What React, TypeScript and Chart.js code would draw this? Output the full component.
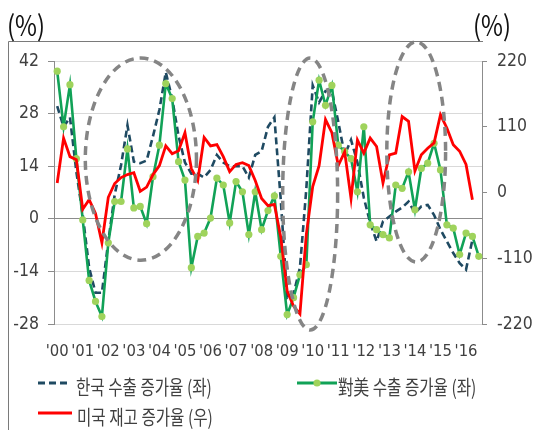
import { useEffect, useRef } from 'react';
import { Chart, registerables } from 'chart.js';

Chart.register(...registerables);

// Quarterly growth rates, 2000Q1 onwards
const yearLabels = ["'00", "'01", "'02", "'03", "'04", "'05", "'06", "'07", "'08", "'09", "'10", "'11", "'12", "'13", "'14", "'15", "'16"];
const quarterNames = ['Q1', 'Q2', 'Q3', 'Q4'];

// 한국 수출 증가율 (좌), %
const koreaExports = [
  30, 24.5, 27, 12.5, 1, -13, -19.7, -19.7, -6, 6.4,
  14.3, 24.9, 15.2, 14.8, 15.5, 22, 29, 39, 32, 22,
  15, 12, 12, 11, 13, 17, 15, 14, 14, 14,
  11, 17, 18, 24.5, 27, 5, -21, -20, -13, 8,
  35.5, 31, 34, 34, 25.8, 17, 21, 15, 5.6, -1.1,
  -6, -0.7, 0.6, 1.9, 3, 4.6, 1.5, 3.3, 3.7, 1,
  -2.9, -6, -9.1, -11.8, -13.5, -5.6,
];

// 對美 수출 증가율 (좌), %
const exportsToUS = [
  39.3, 24.5, 35.7, 16, -0.3, -16.4, -22, -26, -6.4, 4.6,
  4.6, 18.6, 2.9, 3.3, -1.3, 11.2, 19.6, 36, 32, 15.2,
  10.3, -13, -4.7, -3.8, 0.2, 10.8, 9, -1.1, 9.9, 7.2,
  -4.2, 7.2, -2.9, 2.2, 6.1, -10, -25.5, -21, -14.9, -12.2,
  25.8, 36.9, 30.2, 35.5, 19.6, 17.9, 16, 7.2, 24.5, -1.6,
  -2.9, -4.2, -5.1, 9, 8.1, 12.5, 2.4, 13.4, 14.8, 20.1,
  13, -1.6, -2.5, -9.5, -3.8, -4.7, -10,
];

// 미국 재고 증가율 (우), %
const usInventory = [
  16, 91, 60, 55, -28, -12, -35, -84, -8, 15,
  25, 30, 33, 2, 9, 30, 45, 78, 65, 70,
  100, 40, 20, 92, 78, 80, 60, 35, 47, 50,
  45, 20, -10, -22, -20, -75, -165, -190, -203, -70,
  10, 45, 122, 100, 45, 68, -10, 88, 66, 91,
  77, 16, 63, 66, 127, 119, 36, 63, 74, 83,
  130, 108, 80, 69, 47, -12,
];

const leftTicks = [42, 28, 14, 0, -14, -28];
const rightTicks = [220, 110, 0, -110, -220];

const quarterLabels = exportsToUS.map(
  (_, i) => `${2000 + Math.floor(i / 4)}${quarterNames[i % 4]}`
);

// Dashed highlight rings: centre (quarter index, left-axis %) and radii in the same units
const highlightRings = [
  { cx: 13.1, cy: 15.9, rx: 8.7, ry: 26.9 },
  { cx: 39.6, cy: 6.6, rx: 4.3, ry: 36.2 },
  { cx: 56.2, cy: 17.8, rx: 4.6, ry: 29.3 },
];

const TEXT_COLOR = '#404040';
const AXIS_GRAY = '#8c8c8c';
const NUM_FONT = "'Liberation Sans Narrow', 'Arial Narrow', 'DejaVu Sans Condensed', 'Liberation Sans', sans-serif";
const KR_FONT = "'Noto Sans CJK KR', 'Noto Sans', sans-serif";

const COLORS = {
  korea: '#1f4a62',
  us: '#11a257',
  usMarker: '#9fd35c',
  inventory: '#ff0000',
};

function narrowText(
  ctx: CanvasRenderingContext2D,
  text: string,
  x: number,
  y: number,
  font: string,
  color: string,
  sx: number
) {
  ctx.save();
  ctx.translate(x, y);
  ctx.scale(sx, 1);
  ctx.font = font;
  ctx.fillStyle = color;
  ctx.textAlign = 'left';
  ctx.textBaseline = 'alphabetic';
  ctx.fillText(text, 0, 0);
  ctx.restore();
}

const ringsPlugin = {
  id: 'highlightRings',
  afterDatasetsDraw(chart: any) {
    const { ctx } = chart;
    const xs = chart.scales.x;
    const ys = chart.scales.y;
    ctx.save();
    ctx.strokeStyle = '#858585';
    ctx.lineWidth = 3.5;
    ctx.setLineDash([9, 6]);
    for (const r of highlightRings) {
      const cx = xs.getPixelForValue(r.cx);
      const cy = ys.getPixelForValue(r.cy);
      const rx = Math.abs(xs.getPixelForValue(r.cx + r.rx) - cx);
      const ry = Math.abs(ys.getPixelForValue(r.cy + r.ry) - cy);
      ctx.beginPath();
      ctx.ellipse(cx, cy, rx, ry, 0, 0, Math.PI * 2);
      ctx.stroke();
    }
    ctx.restore();
  },
};

const framePlugin = {
  id: 'frameAndLegend',
  afterDraw(chart: any) {
    const { ctx } = chart;
    const ds = chart.data.datasets;
    ctx.save();

    // chart frame: top and left edges
    ctx.strokeStyle = '#7a7a7a';
    ctx.lineWidth = 1;
    ctx.beginPath();
    ctx.moveTo(8.5, 430);
    ctx.lineTo(8.5, 41.5);
    ctx.lineTo(483, 41.5);
    ctx.stroke();

    // unit labels
    narrowText(ctx, '(%)', 7, 36, `28px ${KR_FONT}`, '#111111', 0.85);
    narrowText(ctx, '(%)', 473, 36, `28px ${KR_FONT}`, '#111111', 0.85);

    // legend
    const legendFont = `20px ${KR_FONT}`;
    const sx = 0.78;
    ctx.lineCap = 'butt';

    // 한국 수출 증가율
    ctx.strokeStyle = ds[0].borderColor;
    ctx.lineWidth = 3;
    ctx.setLineDash([7, 4]);
    ctx.beginPath();
    ctx.moveTo(38, 383);
    ctx.lineTo(69, 383);
    ctx.stroke();
    ctx.setLineDash([]);
    narrowText(ctx, ds[0].label, 76, 395, legendFont, TEXT_COLOR, sx);

    // 對美 수출 증가율
    ctx.strokeStyle = ds[1].borderColor;
    ctx.lineWidth = 3;
    ctx.beginPath();
    ctx.moveTo(297, 383);
    ctx.lineTo(337, 383);
    ctx.stroke();
    ctx.fillStyle = ds[1].pointBackgroundColor;
    ctx.beginPath();
    ctx.arc(317, 383, 3.6, 0, Math.PI * 2);
    ctx.fill();
    narrowText(ctx, ds[1].label, 338, 395, legendFont, TEXT_COLOR, sx);

    // 미국 재고 증가율
    ctx.strokeStyle = ds[2].borderColor;
    ctx.lineWidth = 3;
    ctx.beginPath();
    ctx.moveTo(38, 413);
    ctx.lineTo(72, 413);
    ctx.stroke();
    narrowText(ctx, ds[2].label, 77, 425, legendFont, TEXT_COLOR, sx);

    ctx.restore();
  },
};

export default function App() {
  const canvasRef = useRef<HTMLCanvasElement>(null);

  useEffect(() => {
    const canvas = canvasRef.current;
    if (!canvas) return;

    const chart = new Chart(canvas, {
      type: 'line',
      data: {
        labels: quarterLabels,
        datasets: [
          {
            label: '한국 수출 증가율 (좌)',
            data: koreaExports,
            yAxisID: 'y',
            borderColor: COLORS.korea,
            borderWidth: 2.6,
            borderDash: [7, 4],
            pointRadius: 0,
            tension: 0,
            order: 3,
          },
          {
            label: '對美 수출 증가율 (좌)',
            data: exportsToUS,
            yAxisID: 'y',
            borderColor: COLORS.us,
            borderWidth: 2.6,
            pointRadius: 3.6,
            pointBackgroundColor: COLORS.usMarker,
            pointBorderColor: COLORS.usMarker,
            pointBorderWidth: 0,
            tension: 0,
            order: 2,
          },
          {
            label: '미국 재고 증가율 (우)',
            data: usInventory,
            yAxisID: 'y1',
            borderColor: COLORS.inventory,
            borderWidth: 2.8,
            pointRadius: 0,
            tension: 0,
            order: 1,
          },
        ],
      },
      options: {
        responsive: false,
        animation: false,
        layout: { padding: { top: 61, left: 0, right: 0, bottom: 0 } },
        plugins: {
          legend: { display: false },
          tooltip: { enabled: false },
        },
        scales: {
          x: {
            type: 'category',
            offset: true,
            grid: { display: false, drawTicks: false },
            border: { display: false },
            ticks: {
              autoSkip: false,
              maxRotation: 0,
              minRotation: 0,
              padding: 18,
              color: TEXT_COLOR,
              font: { family: NUM_FONT, size: 16.5 },
              callback: (_v: any, i: number) => (i % 4 === 0 ? yearLabels[i / 4] : ''),
            },
            afterFit: (s: any) => {
              s.height = 106;
            },
          },
          y: {
            position: 'left',
            min: leftTicks[leftTicks.length - 1],
            max: leftTicks[0],
            afterBuildTicks: (s: any) => {
              s.ticks = leftTicks.map((v) => ({ value: v }));
            },
            ticks: {
              padding: 9,
              color: TEXT_COLOR,
              font: { family: NUM_FONT, size: 17.5 },
            },
            grid: {
              color: (c: any) => (c.tick && c.tick.value === 0 ? AXIS_GRAY : '#d9d9d9'),
              tickColor: AXIS_GRAY,
              tickLength: 6,
              lineWidth: 1,
            },
            border: { color: AXIS_GRAY },
            afterFit: (s: any) => {
              s.width = 54;
            },
          },
          y1: {
            position: 'right',
            min: rightTicks[rightTicks.length - 1],
            max: rightTicks[0],
            afterBuildTicks: (s: any) => {
              s.ticks = rightTicks.map((v) => ({ value: v }));
            },
            ticks: {
              padding: 10,
              color: TEXT_COLOR,
              font: { family: NUM_FONT, size: 17.5 },
            },
            grid: {
              drawOnChartArea: false,
              tickColor: AXIS_GRAY,
              tickLength: 5,
            },
            border: { color: AXIS_GRAY },
            afterFit: (s: any) => {
              s.width = 52;
            },
          },
        },
      },
      plugins: [ringsPlugin, framePlugin],
    } as any);

    return () => chart.destroy();
  }, []);

  return (
    <div style={{ position: 'absolute', left: 0, top: 0, width: 534, height: 430, background: '#ffffff' }}>
      <canvas ref={canvasRef} width={534} height={430} style={{ display: 'block' }} />
    </div>
  );
}
